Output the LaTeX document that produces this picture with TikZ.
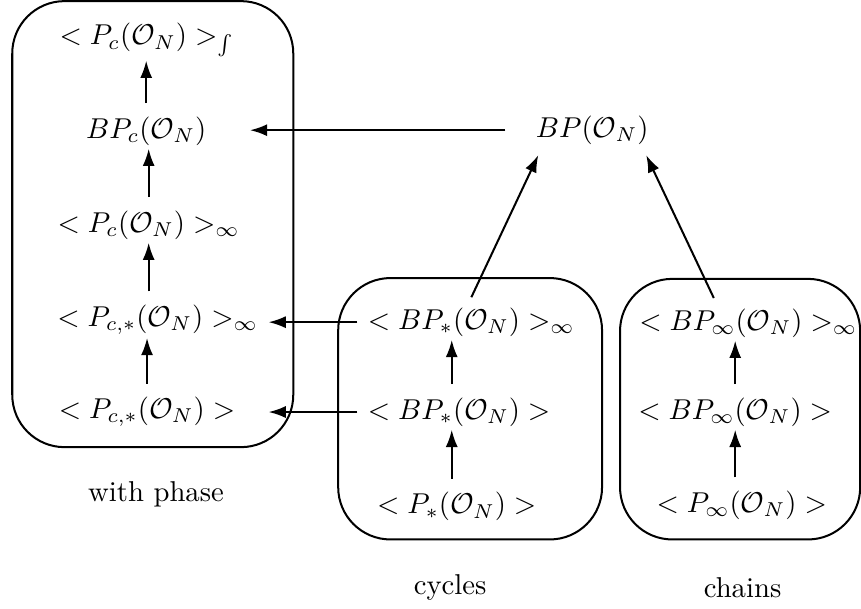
\documentclass[tikz,border=0pt]{standalone}
\usepackage{amsmath,amssymb}
\usepackage{tikz}
\usetikzlibrary{arrows.meta}
\newcommand{\ON}{\mathcal{O}_N}

\begin{document}
\begin{tikzpicture}[
  line width=0.7pt,
  >={Latex[length=6pt,width=4.2pt]},
  grp/.style={rounded corners=0.64cm},
  up/.style={->, shorten <=1pt, shorten >=-2.5pt}
]
\useasboundingbox (0,0) rectangle (10.54,7.454);

% ── with phase: left column ───────────────────────────────────────────────
\draw[grp] (0.15,1.98) rectangle (3.59,7.44);
\node (L1) at (1.80,6.96) {$< P_c(\ON) >_{\int}$};
\node (L2) at (1.79,5.85) {$BP_c(\ON)$};
\node (L3) at (1.82,4.70) {$< P_c(\ON) >_{\infty}$};
\node (L4) at (1.93,3.54) {$< P_{c,*}(\ON) >_{\infty}$};
\node (L5) at (1.80,2.41) {$< P_{c,*}(\ON) >$};
\node (phase) at (1.91,1.40) {with phase};

\draw[up] (L2) -- (L2 |- L1.south);
\draw[up] (L3) -- (L3 |- L2.south);
\draw[up] (L4.north -| L3) -- (L3);
\draw[up] (L5) -- (L5 |- L4.south);

% ── top node ─────────────────────────────────────────────────────────────
\node (BP) at (7.25,5.86) {$BP(\ON)$};
\draw[->, shorten <=7pt, shorten >=11.5pt] (BP.west) -- (L2.east |- BP.west);

% ── cycles: middle column ────────────────────────────────────────────────
\draw[grp] (4.14,0.85) rectangle (7.37,4.05);
\node (M1) at (5.77,3.51) {$< BP_*(\ON) >_{\infty}$};
\node (M2) at (5.62,2.41) {$< BP_*(\ON) >$};
\node (M3) at (5.59,1.25) {$< P_*(\ON) >$};
\node (cycles) at (5.51,0.26) {cycles};

\draw[up] (M3.north -| 5.53,0) -- (M2.south -| 5.53,0);
\draw[up] (M2.north -| 5.53,0) -- (M1.south -| 5.53,0);

% ── chains: right column ─────────────────────────────────────────────────
\draw[grp] (7.59,0.85) rectangle (10.53,4.04);
\node (R1) at (9.16,3.50) {$< BP_{\infty}(\ON) >_{\infty}$};
\node (R2) at (9.00,2.41) {$< BP_{\infty}(\ON) >$};
\node (R3) at (9.08,1.27) {$< P_{\infty}(\ON) >$};
\node (chains) at (9.09,0.26) {chains};

\draw[up] (R3.north -| R2) -- (R2);
\draw[up] (R2) -- (R2 |- R1.south);

% ── links between the groups ─────────────────────────────────────────────
\draw[->] (M1.west) -- (M1.west -| L4.east);
\draw[->] (M2.west) -- (M2.west -| L4.east);
\draw[->] (M1.north) -- ([xshift=4.5pt]BP.south west);
\draw[->] ([xshift=-12pt]R1.north) -- ([xshift=-4.5pt]BP.south east);

\end{tikzpicture}
\end{document}
